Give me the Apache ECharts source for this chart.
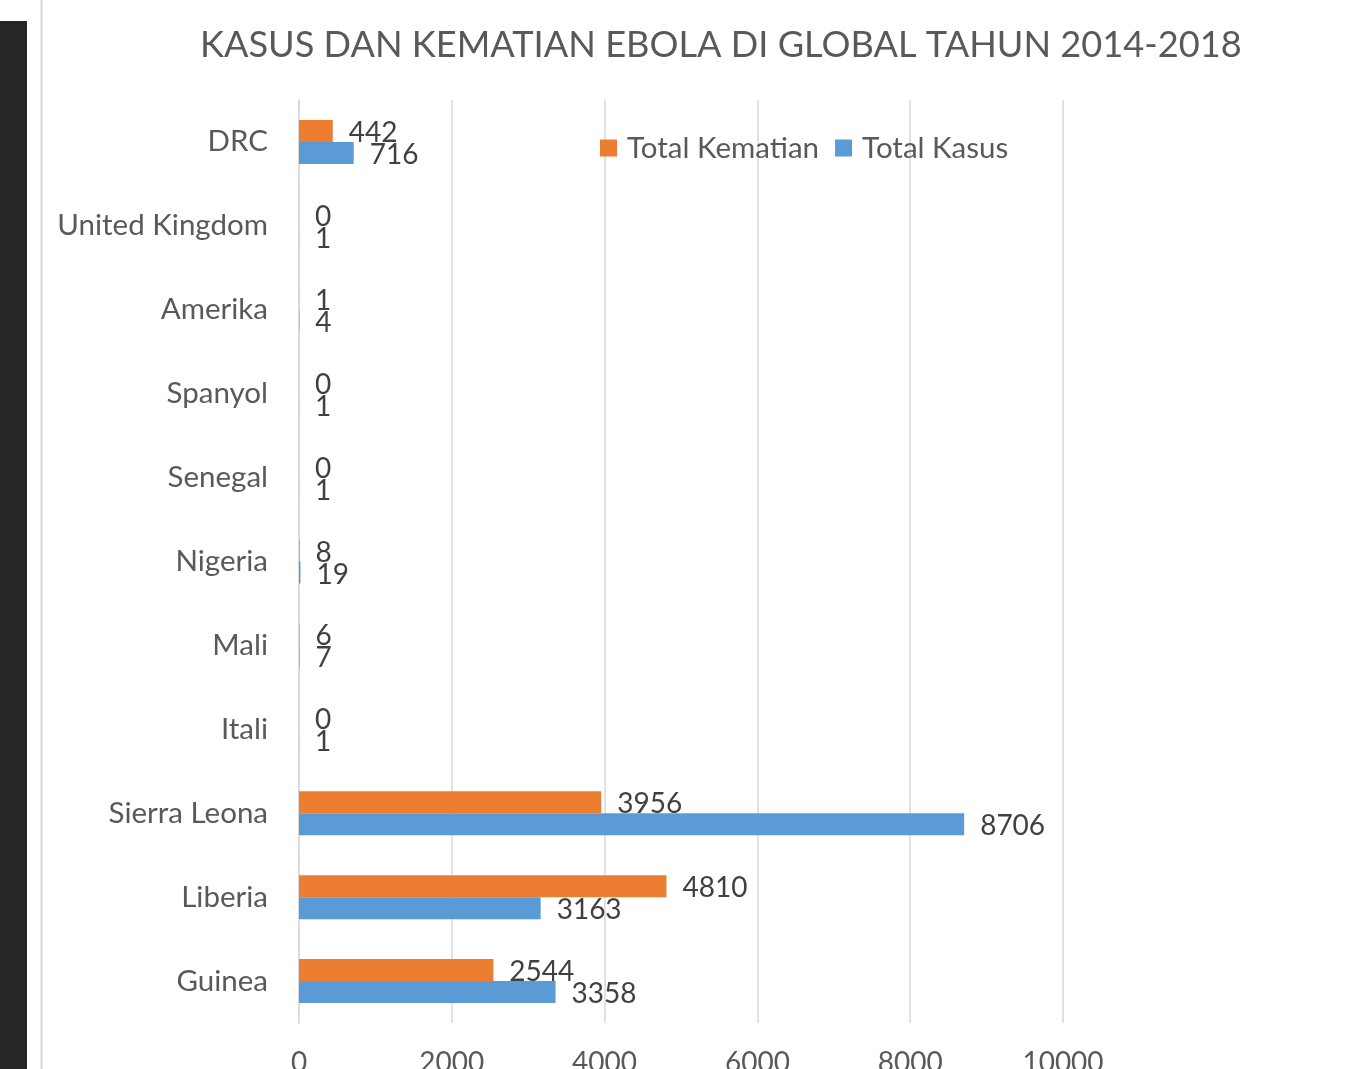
<!DOCTYPE html>
<html>
<head>
<meta charset="utf-8">
<script src="https://cdn.jsdelivr.net/npm/echarts@6/dist/echarts.min.js"></script>
<style>
  html, body { margin: 0; padding: 0; background: #fff; }
  #chart { width: 1366px; height: 1069px; }
</style>
</head>
<body>
<div id="chart"></div>
<script>
// categories bottom -> top (as echarts lays out a category y axis)
const countries = ['Guinea', 'Liberia', 'Sierra Leona', 'Itali', 'Mali', 'Nigeria', 'Senegal', 'Spanyol', 'Amerika', 'United Kingdom', 'DRC'];
const totalKasus = [3358, 3163, 8706, 1, 7, 19, 1, 1, 4, 1, 716];
const totalKematian = [2544, 4810, 3956, 0, 6, 8, 0, 0, 1, 0, 442];
const xTicks = [0, 2000, 4000, 6000, 8000, 10000];

const FONT = 'Lato';
const chart = echarts.init(document.getElementById('chart'));

const labelStyle = {
  show: true,
  position: 'right',
  distance: 16,
  fontFamily: FONT,
  fontSize: 28,
  color: '#404040',
  offset: [0, 2]
};

chart.setOption({
  animation: false,
  backgroundColor: '#ffffff',
  textStyle: { fontFamily: FONT },
  title: {
    text: 'KASUS DAN KEMATIAN EBOLA DI GLOBAL TAHUN 2014-2018',
    left: 195,
    top: 22,
    textStyle: { fontFamily: FONT, fontSize: 36.2, fontWeight: 'normal', color: '#595959' }
  },
  legend: {
    data: ['Total Kematian', 'Total Kasus'],
    left: 600,
    top: 133,
    padding: 0,
    icon: 'rect',
    itemWidth: 17,
    itemHeight: 17,
    itemGap: 16,
    textStyle: { fontFamily: FONT, fontSize: 29.5, color: '#595959', padding: [0, 0, 0, 5] }
  },
  grid: { left: 299, right: 303, top: 100, bottom: 46, outerBoundsMode: 'none' },
  xAxis: {
    type: 'value',
    min: xTicks[0],
    max: xTicks[xTicks.length - 1],
    interval: 2000,
    axisLine: { show: false },
    axisTick: { show: false },
    splitLine: { lineStyle: { color: '#d9d9d9', width: 1.5 } },
    axisLabel: { fontFamily: FONT, fontSize: 28, color: '#595959', margin: 26, formatter: v => String(v) }
  },
  yAxis: {
    type: 'category',
    data: countries,
    axisLine: { show: true, lineStyle: { color: '#d9d9d9', width: 1.5 } },
    axisTick: { show: false },
    axisLabel: { fontFamily: FONT, fontSize: 29.5, color: '#595959', margin: 31 }
  },
  series: [
    {
      name: 'Total Kematian',
      type: 'bar',
      data: totalKematian,
      barWidth: 22,
      barGap: '0%',
      itemStyle: { color: '#ED7D31' },
      label: labelStyle
    },
    {
      name: 'Total Kasus',
      type: 'bar',
      data: totalKasus,
      barWidth: 22,
      barGap: '0%',
      itemStyle: { color: '#5B9BD5' },
      label: labelStyle
    }
  ],
  graphic: [
    { type: 'rect', shape: { x: 0, y: 21, width: 27, height: 1048 }, style: { fill: '#262626' } },
    { type: 'line', shape: { x1: 41.5, y1: 0, x2: 41.5, y2: 1069 }, style: { stroke: '#d9d9d9', lineWidth: 2 } }
  ]
});
</script>
</body>
</html>
